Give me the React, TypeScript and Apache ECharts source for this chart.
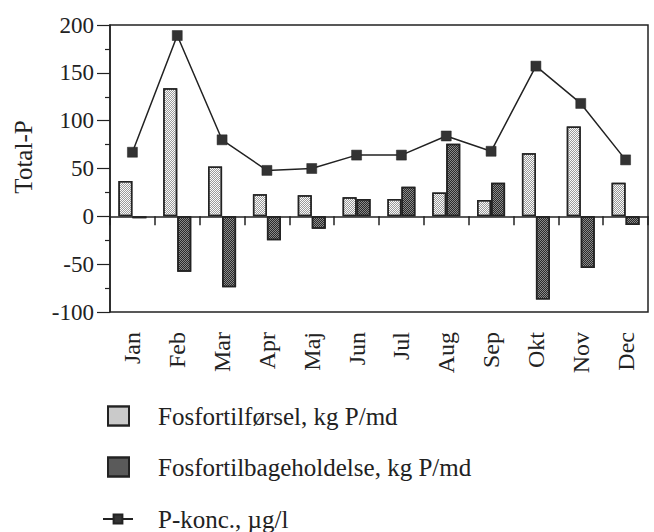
import React, { useEffect, useRef } from "react";
import * as echarts from "echarts";

const months = ["Jan", "Feb", "Mar", "Apr", "Maj", "Jun", "Jul", "Aug", "Sep", "Okt", "Nov", "Dec"];
const tilfoersel = [37, 134, 52, 23, 22, 20, 18, 25, 17, 66, 94, 35];
const tilbageholdelse = [-2, -58, -74, -25, -13, 18, 31, 76, 35, -87, -54, -9];
const pKonc = [67, 189, 80, 48, 50, 64, 64, 84, 68, 157, 118, 59];

const seriesNames = ["Fosfortilførsel, kg P/md", "Fosfortilbageholdelse, kg P/md", "P-konc., µg/l"];
const yAxisTitle = "Total-P";

const FONT = "Liberation Serif";
const INK = "#222";

const checker = (color: string) => ({
  symbol: "rect",
  symbolSize: 1,
  color,
  dashArrayX: [
    [1, 1],
    [0, 1, 1, 0],
  ],
  dashArrayY: [1, 0],
  rotation: 0,
});

export default function App() {
  const ref = useRef<HTMLDivElement>(null);
  useEffect(() => {
    if (!ref.current) return;
    const chart = echarts.init(ref.current, undefined, { renderer: "svg" });
    const legendText = (pad: number) => ({
      fontSize: 25,
      fontFamily: FONT,
      color: INK,
      lineHeight: 26,
      padding: [0, 0, 0, pad],
    });
    chart.setOption({
      animation: false,
      backgroundColor: "#fff",
      textStyle: { fontFamily: FONT, color: INK },
      grid: {
        left: 110,
        top: 25,
        width: 538,
        height: 287,
        show: true,
        borderColor: INK,
        borderWidth: 1.5,
        backgroundColor: "transparent",
      },
      xAxis: [
        {
          type: "category",
          data: months,
          position: "bottom",
          axisLine: { show: false, onZero: false },
          axisTick: { show: false },
          axisLabel: { rotate: 90, margin: 20, fontSize: 24, fontFamily: FONT, color: INK },
          splitLine: { show: false },
        },
        {
          type: "category",
          data: months,
          position: "bottom",
          axisLine: { show: true, onZero: true, lineStyle: { color: INK, width: 1.5 } },
          axisTick: { show: true, inside: false, length: 9, interval: 0, lineStyle: { color: INK, width: 1.5 } },
          axisLabel: { show: false },
          splitLine: { show: false },
        },
      ],
      yAxis: {
        type: "value",
        min: -100,
        max: 200,
        interval: 50,
        axisLine: { show: true, lineStyle: { color: INK, width: 1.5 } },
        axisTick: { show: true, inside: false, length: 13, lineStyle: { color: INK, width: 1.2 } },
        minorTick: { show: true, splitNumber: 2, length: 5, lineStyle: { color: INK, width: 1.2 } },
        axisLabel: { fontSize: 23, margin: 16, fontFamily: FONT, color: INK },
        splitLine: { show: false },
      },
      legend: [
        {
          orient: "vertical",
          left: 107,
          top: 403,
          padding: 0,
          itemWidth: 21,
          itemHeight: 19,
          icon: "rect",
          data: [seriesNames[0]],
          textStyle: legendText(24),
        },
        {
          orient: "vertical",
          left: 107,
          top: 454,
          padding: 0,
          itemWidth: 21,
          itemHeight: 19,
          icon: "rect",
          data: [seriesNames[1]],
          textStyle: legendText(24),
        },
        {
          orient: "vertical",
          left: 102,
          top: 506,
          padding: 0,
          itemWidth: 30,
          itemHeight: 11,
          data: [seriesNames[2]],
          textStyle: legendText(20),
        },
      ],
      graphic: [
        {
          type: "text",
          x: 23,
          y: 157,
          rotation: Math.PI / 2,
          style: {
            text: yAxisTitle,
            fontSize: 25,
            fontFamily: FONT,
            fill: INK,
            align: "center",
            verticalAlign: "middle",
          },
        },
      ],
      series: [
        {
          name: seriesNames[0],
          type: "bar",
          data: tilfoersel,
          barWidth: 14,
          barGap: "0%",
          itemStyle: {
            color: "#fafafa",
            borderColor: INK,
            borderWidth: 1.5,
            decal: checker("#9a9a9a"),
          },
        },
        {
          name: seriesNames[1],
          type: "bar",
          data: tilbageholdelse,
          barWidth: 14,
          barGap: "0%",
          itemStyle: {
            color: "#8a8a8a",
            borderColor: INK,
            borderWidth: 1.5,
            decal: checker("#2a2a2a"),
          },
        },
        {
          name: seriesNames[2],
          type: "line",
          data: pKonc,
          symbol: "rect",
          symbolSize: 10,
          lineStyle: { color: INK, width: 1.5 },
          itemStyle: { color: "#333", borderColor: INK, borderWidth: 0.5 },
          z: 5,
        },
      ],
    });
    return () => chart.dispose();
  }, []);
  return <div ref={ref} style={{ position: "fixed", left: 0, top: 0, width: 654, height: 532 }} />;
}
